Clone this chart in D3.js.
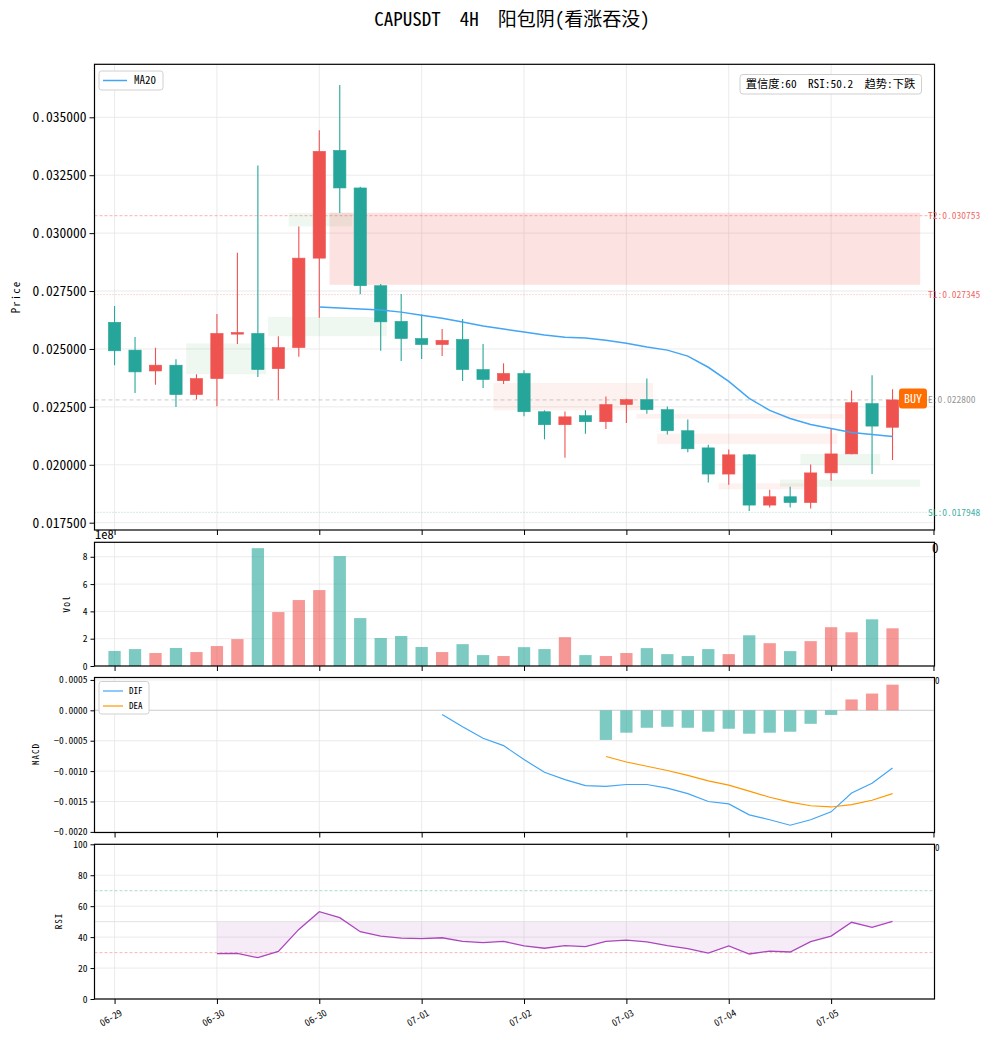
<!DOCTYPE html>
<html><head><meta charset="utf-8">
<script src="https://cdn.jsdelivr.net/npm/d3@7"></script>
<style>body{margin:0;background:#fff}svg{display:block}</style>
</head><body><div id="chart"></div>
<script>
// ---------------- DATA ----------------
const tickIdx = [0, 5, 10, 15, 20, 25, 30, 35];
const tickLabels = ['06-29', '06-30', '06-30', '07-01', '07-02', '07-03', '07-04', '07-05'];

const openP  = [0.02615,0.02495,0.02405,0.02430,0.02303,0.02372,0.02564,0.02567,0.02415,0.02506,0.02892,0.03357,0.03195,0.02773,0.02619,0.02545,0.02519,0.02541,0.02411,0.02363,0.02394,0.02229,0.02173,0.02212,0.02186,0.02260,0.02281,0.02238,0.02147,0.02073,0.01960,0.02043,0.01826,0.01862,0.01837,0.01965,0.02047,0.02264,0.02162];
const highP  = [0.02685,0.02552,0.02505,0.02456,0.02391,0.02651,0.02915,0.03292,0.02555,0.03029,0.03444,0.03639,0.03200,0.02780,0.02737,0.02649,0.02586,0.02629,0.02521,0.02438,0.02408,0.02235,0.02230,0.02235,0.02295,0.02285,0.02373,0.02252,0.02196,0.02087,0.02066,0.02047,0.01892,0.01905,0.02001,0.02156,0.02321,0.02386,0.02326];
const lowP   = [0.02430,0.02310,0.02346,0.02249,0.02282,0.02253,0.02521,0.02379,0.02281,0.02466,0.02635,0.03087,0.02736,0.02492,0.02448,0.02457,0.02470,0.02362,0.02331,0.02349,0.02210,0.02110,0.02030,0.02134,0.02154,0.02180,0.02220,0.02131,0.02054,0.01924,0.01914,0.01801,0.01816,0.01816,0.01811,0.01931,0.02045,0.01960,0.02021];
const closeP = [0.02492,0.02401,0.02430,0.02303,0.02372,0.02567,0.02571,0.02411,0.02506,0.02892,0.03353,0.03195,0.02773,0.02617,0.02545,0.02519,0.02537,0.02411,0.02368,0.02394,0.02229,0.02173,0.02207,0.02186,0.02260,0.02281,0.02238,0.02147,0.02069,0.01960,0.02043,0.01826,0.01862,0.01837,0.01965,0.02047,0.02268,0.02167,0.02280];
// volume in units of 1e8
const volume = [1.10,1.24,0.95,1.32,1.02,1.46,1.97,8.63,3.95,4.83,5.56,8.05,3.51,2.05,2.20,1.39,1.02,1.60,0.80,0.73,1.38,1.24,2.11,0.80,0.73,0.95,1.31,0.87,0.73,1.24,0.87,2.25,1.67,1.09,1.82,2.84,2.47,3.42,2.76];

const ma20Start = 10;
const ma20 = [0.02681,0.02677,0.02672,0.02668,0.02659,0.02646,0.02633,0.02616,0.02599,0.02586,0.02573,0.02560,0.02551,0.02547,0.02538,0.02525,0.02508,0.02495,0.02469,0.02421,0.02360,0.02287,0.02235,0.02200,0.02174,0.02157,0.02139,0.02131,0.02122];

const difStart = 16;
const dif = [-0.00007,-0.00027,-0.00046,-0.00058,-0.00081,-0.00102,-0.00114,-0.00124,-0.00125,-0.00122,-0.00122,-0.00128,-0.00137,-0.00150,-0.00154,-0.00172,-0.00180,-0.00189,-0.00180,-0.00167,-0.00136,-0.00120,-0.00095];
const deaStart = 24;
const dea = [-0.00076,-0.00085,-0.00092,-0.00099,-0.00107,-0.00116,-0.00123,-0.00133,-0.00143,-0.00151,-0.00157,-0.00159,-0.00155,-0.00148,-0.00137];
const histStart = 24;
const hist = [-0.000487,-0.000368,-0.000287,-0.000271,-0.000287,-0.000352,-0.000303,-0.000385,-0.000368,-0.000352,-0.000222,-0.000076,0.000179,0.000276,0.000422];

const rsiStart = 5;
const rsi = [29.3,29.5,26.7,30.8,45.0,56.4,52.6,43.5,40.7,39.4,39.0,39.6,37.3,36.4,37.3,34.3,32.8,34.5,33.8,37.3,38.1,36.9,34.5,32.5,29.7,34.3,29.1,31.0,30.4,37.1,40.7,49.6,46.3,50.2];

// zones: [startIndex, endIndex, low, high]
const bullZones = [[3.5,7.4,0.02391,0.02524],[7.5,13.3,0.02555,0.02638],[8.5,11.6,0.03029,0.03088],[33.5,37.4,0.02001,0.02047],[32.5,39.35,0.01905,0.01936]];
const bearZones = [[18.5,26.3,0.02235,0.02353],[25.5,35.6,0.02199,0.02220],[26.5,35.3,0.02090,0.02134],[29.5,33.7,0.01894,0.01920]];
const targetZone = [10.5,39.35,0.02777,0.03088];

const levelNames = ['T2', 'T1', 'E', 'SL'];
const levelValues = [0.030753, 0.027345, 0.022800, 0.017948];
const levelColors = ['#ef5350', '#ef5350', '#888888', '#26a69a'];
const levelDash = ['3,2', '1,2', '4,3', '1,2'];

const mainTicks = [0.0175,0.0200,0.0225,0.0250,0.0275,0.0300,0.0325,0.0350];
const volTicks = [0,2,4,6,8];
const macdTicks = [-0.0020,-0.0015,-0.0010,-0.0005,0.0000,0.0005];
const rsiTicks = [0,20,40,60,80,100];

const titleText = 'CAPUSDT  4H  阳包阴(看涨吞没)';
const infoText = '置信度:60  RSI:50.2  趋势:下跌';

// ---------------- LAYOUT ----------------
const W = 993, H = 1040;
const L = 94.5, R = 934.5;
const UP = '#ef5350', DN = '#26a69a';
const FONT = "'Noto Sans Mono CJK SC','Noto Sans CJK SC','DejaVu Sans',sans-serif";
const GRID = '#e6e6e6';

const svg = d3.select('#chart').append('svg').attr('width', W).attr('height', H)
  .style('font-family', FONT);

const x = d3.scaleLinear().domain([-0.98, 40.05]).range([L, R]);
const step = x(1) - x(0);
const bw = step * 0.6;

const panels = {
  main: {top: 64.3, bottom: 530},
  vol: {top: 542.3, bottom: 666},
  macd: {top: 677.5, bottom: 832.5},
  rsi: {top: 844.3, bottom: 999}
};
const yMain = d3.scaleLinear().domain([0.017185, 0.037288]).range([panels.main.bottom, panels.main.top]);
const yVol = d3.scaleLinear().domain([0, 9.06]).range([panels.vol.bottom, panels.vol.top]);
const yMacd = d3.scaleLinear().domain([-0.00201, 0.00054]).range([panels.macd.bottom, panels.macd.top]);
const yRsi = d3.scaleLinear().domain([0, 100]).range([panels.rsi.bottom, panels.rsi.top]);

Object.entries(panels).forEach(([k, p]) => {
  svg.append('clipPath').attr('id', 'clip-' + k).append('rect')
    .attr('x', L).attr('y', p.top).attr('width', R - L).attr('height', p.bottom - p.top);
});

function gridAndAxes(key, yScale, ticks, fmt, fs, tickLen) {
  const p = panels[key];
  const g = svg.append('g');
  g.selectAll('.vg').data(tickIdx).join('line')
    .attr('x1', d => x(d)).attr('x2', d => x(d)).attr('y1', p.top).attr('y2', p.bottom)
    .attr('stroke', GRID).attr('stroke-width', 0.8);
  g.selectAll('.hg').data(ticks).join('line')
    .attr('x1', L).attr('x2', R).attr('y1', d => yScale(d)).attr('y2', d => yScale(d))
    .attr('stroke', GRID).attr('stroke-width', 0.8);
  const ax = svg.append('g').attr('transform', `translate(${L},0)`)
    .call(d3.axisLeft(yScale).tickValues(ticks).tickFormat(fmt).tickSize(tickLen).tickPadding(3));
  ax.select('.domain').remove();
  ax.selectAll('text').style('font-size', fs + 'px').style('font-family', FONT).attr('fill', '#000');
  ax.selectAll('line').attr('stroke', '#000');
  const bx = svg.append('g').attr('transform', `translate(0,${p.bottom})`)
    .call(d3.axisBottom(x).tickValues(key === 'rsi' ? tickIdx : tickIdx.concat([40])).tickFormat('').tickSize(5));
  bx.select('.domain').remove();
  bx.selectAll('line').attr('stroke', '#000');
  return g;
}
function frame(key) {
  const p = panels[key];
  svg.append('rect').attr('x', L).attr('y', p.top).attr('width', R - L).attr('height', p.bottom - p.top)
    .attr('fill', 'none').attr('stroke', '#000').attr('stroke-width', 1.2);
}

// ---------------- MAIN PANEL ----------------
gridAndAxes('main', yMain, mainTicks, d3.format('.6f'), 13.5, 5);
const gm = svg.append('g').attr('clip-path', 'url(#clip-main)');

gm.selectAll('.bull').data(bullZones).join('rect')
  .attr('x', d => x(d[0])).attr('width', d => x(d[1]) - x(d[0]))
  .attr('y', d => yMain(d[3])).attr('height', d => yMain(d[2]) - yMain(d[3]))
  .attr('fill', '#66bb6a').attr('fill-opacity', 0.1);
gm.selectAll('.bear').data(bearZones).join('rect')
  .attr('x', d => x(d[0])).attr('width', d => x(d[1]) - x(d[0]))
  .attr('y', d => yMain(d[3])).attr('height', d => yMain(d[2]) - yMain(d[3]))
  .attr('fill', '#ef5350').attr('fill-opacity', 0.08);
gm.append('rect')
  .attr('x', x(targetZone[0])).attr('width', x(targetZone[1]) - x(targetZone[0]))
  .attr('y', yMain(targetZone[3])).attr('height', yMain(targetZone[2]) - yMain(targetZone[3]))
  .attr('fill', '#ef5350').attr('fill-opacity', 0.17);

gm.selectAll('.lvl').data(levelValues).join('line')
  .attr('x1', L).attr('x2', R).attr('y1', d => yMain(d)).attr('y2', d => yMain(d))
  .attr('stroke', (d, i) => levelColors[i]).attr('stroke-opacity', 0.55).attr('stroke-width', 0.8)
  .attr('stroke-dasharray', (d, i) => levelDash[i]);

const idx = d3.range(openP.length);
const cg = gm.append('g');
cg.selectAll('.wick').data(idx).join('line')
  .attr('x1', i => x(i)).attr('x2', i => x(i))
  .attr('y1', i => yMain(highP[i])).attr('y2', i => yMain(lowP[i]))
  .attr('stroke', i => closeP[i] >= openP[i] ? UP : DN).attr('stroke-width', 1.1);
cg.selectAll('.body').data(idx).join('rect')
  .attr('x', i => x(i) - bw / 2).attr('width', bw)
  .attr('y', i => yMain(Math.max(openP[i], closeP[i])))
  .attr('height', i => Math.max(1.2, Math.abs(yMain(openP[i]) - yMain(closeP[i]))))
  .attr('fill', i => closeP[i] >= openP[i] ? UP : DN)
  .attr('stroke', i => closeP[i] >= openP[i] ? UP : DN).attr('stroke-width', 0.6);

gm.append('path').datum(ma20)
  .attr('d', d3.line().x((d, i) => x(i + ma20Start)).y(d => yMain(d)))
  .attr('fill', 'none').attr('stroke', '#42a5f5').attr('stroke-width', 1.5);

frame('main');

// level labels
svg.selectAll('.lvltxt').data(levelValues).join('text')
  .attr('x', 928).attr('y', d => yMain(d)).attr('dy', '0.35em')
  .attr('fill', (d, i) => levelColors[i]).attr('fill-opacity', 0.9)
  .style('font-size', '9.5px')
  .text((d, i) => levelNames[i] + ':' + d3.format('.6f')(d));

// BUY tag
const buyY = yMain(levelValues[2]);
svg.append('rect').attr('x', 899).attr('y', buyY - 11.5).attr('width', 28).attr('height', 20).attr('rx', 3)
  .attr('fill', '#ff6d00');
svg.append('text').attr('x', 913).attr('y', buyY - 1.5).attr('dy', '0.35em').attr('text-anchor', 'middle')
  .attr('fill', '#fff').style('font-size', '12px').text('BUY');

// MA20 legend
svg.append('rect').attr('x', 99).attr('y', 71).attr('width', 64).attr('height', 19).attr('rx', 2.5)
  .attr('fill', '#fff').attr('stroke', '#d0d0d0');
svg.append('line').attr('x1', 103).attr('x2', 127).attr('y1', 80.5).attr('y2', 80.5)
  .attr('stroke', '#42a5f5').attr('stroke-width', 1.5);
svg.append('text').attr('x', 134).attr('y', 80.5).attr('dy', '0.35em').style('font-size', '11px').text('MA20');

// info box
svg.append('rect').attr('x', 740).attr('y', 74.5).attr('width', 181.5).attr('height', 19.5).attr('rx', 3)
  .attr('fill', '#fff').attr('stroke', '#cfcfcf');
svg.append('text').attr('x', 830.5).attr('y', 84.5).attr('dy', '0.35em').attr('text-anchor', 'middle')
  .style('font-size', '11.3px').style('white-space', 'pre').text(infoText);

// Title
svg.append('text').attr('x', 512).attr('y', 26).attr('text-anchor', 'middle')
  .style('font-size', '19px').style('white-space', 'pre').text(titleText);

// y labels
function ylab(txt, xx, yy, fs) {
  svg.append('text').attr('transform', `translate(${xx},${yy}) rotate(-90)`).attr('text-anchor', 'middle')
    .style('font-size', fs + 'px').style('letter-spacing', '1px').text(txt);
}
ylab('Price', 20, 297, 11);

// ---------------- VOLUME ----------------
gridAndAxes('vol', yVol, volTicks, d3.format('d'), 9.5, 4);
const gv = svg.append('g').attr('clip-path', 'url(#clip-vol)');
gv.selectAll('rect').data(idx).join('rect')
  .attr('x', i => x(i) - bw / 2).attr('width', bw)
  .attr('y', i => yVol(volume[i])).attr('height', i => yVol(0) - yVol(volume[i]))
  .attr('fill', i => closeP[i] >= openP[i] ? UP : DN).attr('fill-opacity', 0.6);
frame('vol');
ylab('Vol', 70, 604, 9.5);
svg.append('text').attr('x', 95).attr('y', 539).style('font-size', '12.5px').text('1e8');
svg.append('text').attr('x', 932).attr('y', 553).style('font-size', '13px').text('0');

// ---------------- MACD ----------------
gridAndAxes('macd', yMacd, macdTicks, d => d3.format('.4f')(d).replace('-', '\u2212'), 9.5, 4);
const gd = svg.append('g').attr('clip-path', 'url(#clip-macd)');
gd.append('line').attr('x1', L).attr('x2', R).attr('y1', yMacd(0)).attr('y2', yMacd(0))
  .attr('stroke', '#cfcfcf').attr('stroke-width', 0.9);
gd.selectAll('.hb').data(hist).join('rect')
  .attr('x', (d, i) => x(i + histStart) - bw / 2).attr('width', bw)
  .attr('y', d => yMacd(Math.max(0, d))).attr('height', d => Math.abs(yMacd(d) - yMacd(0)))
  .attr('fill', d => d >= 0 ? UP : DN).attr('fill-opacity', 0.6);
gd.append('path').datum(dif)
  .attr('d', d3.line().x((d, i) => x(i + difStart)).y(d => yMacd(d)))
  .attr('fill', 'none').attr('stroke', '#42a5f5').attr('stroke-width', 1.2);
gd.append('path').datum(dea)
  .attr('d', d3.line().x((d, i) => x(i + deaStart)).y(d => yMacd(d)))
  .attr('fill', 'none').attr('stroke', '#ff9800').attr('stroke-width', 1.2);
frame('macd');
ylab('MACD', 39, 754, 9);
svg.append('rect').attr('x', 99).attr('y', 681.5).attr('width', 50).attr('height', 32.5).attr('rx', 2.5)
  .attr('fill', '#fff').attr('stroke', '#d0d0d0');
[['DIF', '#42a5f5', 691], ['DEA', '#ff9800', 706]].forEach(([t, c, yy]) => {
  svg.append('line').attr('x1', 103).attr('x2', 123).attr('y1', yy).attr('y2', yy).attr('stroke', c).attr('stroke-width', 1.2);
  svg.append('text').attr('x', 129).attr('y', yy).attr('dy', '0.35em').style('font-size', '9px').text(t);
});
svg.append('text').attr('x', 935).attr('y', 684).style('font-size', '9px').text('0');

// ---------------- RSI ----------------
gridAndAxes('rsi', yRsi, rsiTicks, d3.format('d'), 9.5, 4);
const gr = svg.append('g').attr('clip-path', 'url(#clip-rsi)');
gr.append('path').datum(rsi)
  .attr('d', d3.area().x((d, i) => x(i + rsiStart)).y0(yRsi(50)).y1(d => yRsi(d)))
  .attr('fill', '#ab47bc').attr('fill-opacity', 0.1);
gr.append('line').attr('x1', L).attr('x2', R).attr('y1', yRsi(50)).attr('y2', yRsi(50))
  .attr('stroke', '#e0e0e0').attr('stroke-width', 0.9);
gr.append('line').attr('x1', L).attr('x2', R).attr('y1', yRsi(70)).attr('y2', yRsi(70))
  .attr('stroke', '#26a69a').attr('stroke-opacity', 0.5).attr('stroke-width', 0.8).attr('stroke-dasharray', '3,2');
gr.append('line').attr('x1', L).attr('x2', R).attr('y1', yRsi(30)).attr('y2', yRsi(30))
  .attr('stroke', '#ef5350').attr('stroke-opacity', 0.5).attr('stroke-width', 0.8).attr('stroke-dasharray', '3,2');
gr.append('path').datum(rsi)
  .attr('d', d3.line().x((d, i) => x(i + rsiStart)).y(d => yRsi(d)))
  .attr('fill', 'none').attr('stroke', '#ab47bc').attr('stroke-width', 1.3);
frame('rsi');
ylab('RSI', 62, 921, 9);
svg.append('text').attr('x', 935).attr('y', 851).style('font-size', '9px').text('0');

// x tick labels
svg.selectAll('.xl').data(tickIdx).join('text')
  .attr('transform', d => `translate(${x(d) + 5},${1009}) rotate(-30)`)
  .attr('text-anchor', 'end').attr('dy', '0.7em')
  .style('font-size', '9.5px').text((d, i) => tickLabels[i]);
</script></body></html>
